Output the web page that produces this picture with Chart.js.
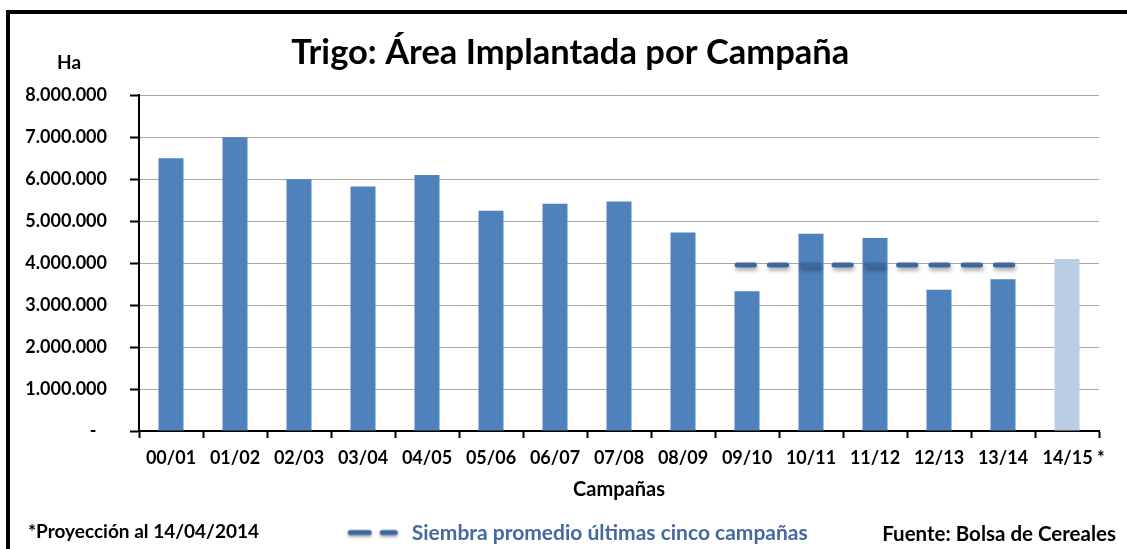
<!DOCTYPE html>
<html lang="es">
<head>
<meta charset="utf-8">
<title>Trigo: Área Implantada por Campaña</title>
<script src="https://cdn.jsdelivr.net/npm/chart.js@4/dist/chart.umd.min.js"></script>
<style>
  html, body { margin: 0; padding: 0; background: #fff; }
  .wrap { position: relative; width: 1127px; height: 549px; overflow: hidden; font-family: Lato, "Open Sans", sans-serif; font-weight: bold; }
  .marco { position: absolute; left: 6px; top: 10px; width: 1200px; height: 600px; border-left: 4px solid #000; border-top: 4px solid #000; }
  canvas { position: absolute; left: 0; top: 0; }
  .nota { position: absolute; color: #000; white-space: nowrap; line-height: 1; }
</style>
</head>
<body>
<div class="wrap">
  <div class="marco"></div>
  <canvas id="grafico" width="1127" height="549"></canvas>
  <div class="nota" style="left:57px;top:52px;font-size:19px;">Ha</div>
  <div class="nota" style="left:28px;top:521px;font-size:19px;">*Proyección al 14/04/2014</div>
  <div class="nota" style="right:11px;top:523px;font-size:20.5px;">Fuente: Bolsa de Cereales</div>
</div>
<script>
// campañas de trigo y área implantada (ha)
const campanias = ["00/01", "01/02", "02/03", "03/04", "04/05", "05/06", "06/07", "07/08",
                   "08/09", "09/10", "10/11", "11/12", "12/13", "13/14", "14/15"];
const areaHa = [6500000, 7000000, 6000000, 5830000, 6100000, 5250000, 5420000, 5470000,
                4730000, 3330000, 4700000, 4600000, 3370000, 3620000, 4100000];
const campaniaProyectada = "14/15";

// siembra promedio últimas cinco campañas
const promedioDesde = "09/10";
const promedioHasta = "13/14";
const promedioHa = 3960000;

const ticksY = [0, 1000000, 2000000, 3000000, 4000000, 5000000, 6000000, 7000000, 8000000];

const AZUL = "#4f81bd";
const AZUL_CLARO = "#b9cde5";
const AZUL_LINEA = "#3d679f";
const FUENTE = "Lato, 'Open Sans', sans-serif";
const ANCHO_BARRA = 0.39;
const EXTREMO_LINEA = 0.155; // el trazo (con remate redondo) llega al borde de la barra

function formatoMiles(v) {
  if (v === 0) return "-\u2007";
  return String(v).replace(/\B(?=(\d{3})+(?!\d))/g, ".");
}

// icono de la leyenda: dos guiones, con margen vacío a la izquierda
function iconoGuiones() {
  const c = document.createElement("canvas");
  c.width = 90; c.height = 14;
  const g = c.getContext("2d");
  g.strokeStyle = AZUL_LINEA;
  g.lineWidth = 5;
  g.lineCap = "round";
  g.shadowColor = "rgba(0,0,0,0.35)";
  g.shadowBlur = 3;
  g.shadowOffsetY = 2;
  g.beginPath();
  g.moveTo(39, 6); g.lineTo(58, 6);
  g.moveTo(71, 6); g.lineTo(84, 6);
  g.stroke();
  return c;
}

const sombraLinea = {
  id: "sombraLinea",
  beforeDatasetDraw(chart, args) {
    if (args.index !== 1) return;
    const c = chart.ctx;
    c.save();
    c.shadowColor = "rgba(0,0,0,0.35)";
    c.shadowBlur = 4;
    c.shadowOffsetX = 1;
    c.shadowOffsetY = 3;
  },
  afterDatasetDraw(chart, args) {
    if (args.index === 1) chart.ctx.restore();
  }
};

function dibujar() {
  const iIni = campanias.indexOf(promedioDesde);
  const iFin = campanias.indexOf(promedioHasta);
  const iProy = campanias.indexOf(campaniaProyectada);

  new Chart(document.getElementById("grafico"), {
    type: "bar",
    data: {
      labels: campanias,
      datasets: [{
        label: "Área implantada",
        data: areaHa,
        backgroundColor: campanias.map((c, i) => i === iProy ? AZUL_CLARO : AZUL),
        borderWidth: 0,
        grouped: false,
        categoryPercentage: 1,
        barPercentage: ANCHO_BARRA,
        order: 2
      }, {
        type: "line",
        label: "Siembra promedio últimas cinco campañas",
        xAxisID: "x2",
        data: [
          { x: iIni - EXTREMO_LINEA, y: promedioHa },
          { x: iFin + EXTREMO_LINEA, y: promedioHa }
        ],
        borderColor: AZUL_LINEA,
        borderWidth: 5,
        borderDash: [17.3, 15],
        borderCapStyle: "round",
        pointRadius: 0,
        fill: false,
        order: 1
      }]
    },
    options: {
      responsive: false,
      animation: false,
      devicePixelRatio: 1,
      layout: { padding: { left: 20, right: 28, top: 0, bottom: -5 } },
      plugins: {
        title: {
          display: true,
          text: "\u2002\u2009Trigo: Área Implantada por Campaña",
          color: "#000",
          font: { family: FUENTE, size: 34.5, weight: "bold" },
          padding: { top: 32, bottom: 22 }
        },
        legend: {
          position: "bottom",
          labels: {
            filter: (item) => item.datasetIndex === 1,
            usePointStyle: true,
            pointStyle: iconoGuiones(),
            pointStyleWidth: 90,
            boxHeight: 14,
            color: "#44699e",
            font: { family: FUENTE, size: 21, weight: "bold", lineHeight: 1 },
            padding: 2
          }
        },
        tooltip: { enabled: false }
      },
      scales: {
        x: {
          type: "category",
          offset: true,
          afterFit: (s) => { s.height = 90; },
          grid: { drawOnChartArea: false, offset: true, tickColor: "#000", tickLength: 7, tickWidth: 2 },
          border: { color: "#000", width: 2 },
          ticks: {
            color: "#000",
            padding: 9,
            maxRotation: 0,
            autoSkip: false,
            font: { family: FUENTE, size: 18, weight: "bold" },
            callback: (v, i) => i === iProy ? "   " + campanias[i] + " *" : campanias[i]
          },
          title: {
            display: true,
            text: "Campañas",
            color: "#000",
            font: { family: FUENTE, size: 20, weight: "bold" },
            padding: { top: 0, bottom: 19 }
          }
        },
        x2: {
          type: "linear",
          display: false,
          offset: false,
          min: -0.5,
          max: campanias.length - 0.5
        },
        y: {
          min: 0,
          max: 8000000,
          afterFit: (s) => { s.width = 119; },
          afterBuildTicks: (s) => { s.ticks = ticksY.map((v) => ({ value: v })); },
          grid: { color: "#a6a6a6", lineWidth: 1, tickColor: "#000", tickLength: 9, tickWidth: 2 },
          border: { color: "#000", width: 2 },
          ticks: {
            color: "#000",
            padding: 23,
            font: { family: FUENTE, size: 18, weight: "bold" },
            callback: (v) => formatoMiles(v)
          }
        }
      }
    },
    plugins: [sombraLinea]
  });
}

document.fonts.load("bold 18px Lato").then(dibujar, dibujar);
</script>
</body>
</html>
